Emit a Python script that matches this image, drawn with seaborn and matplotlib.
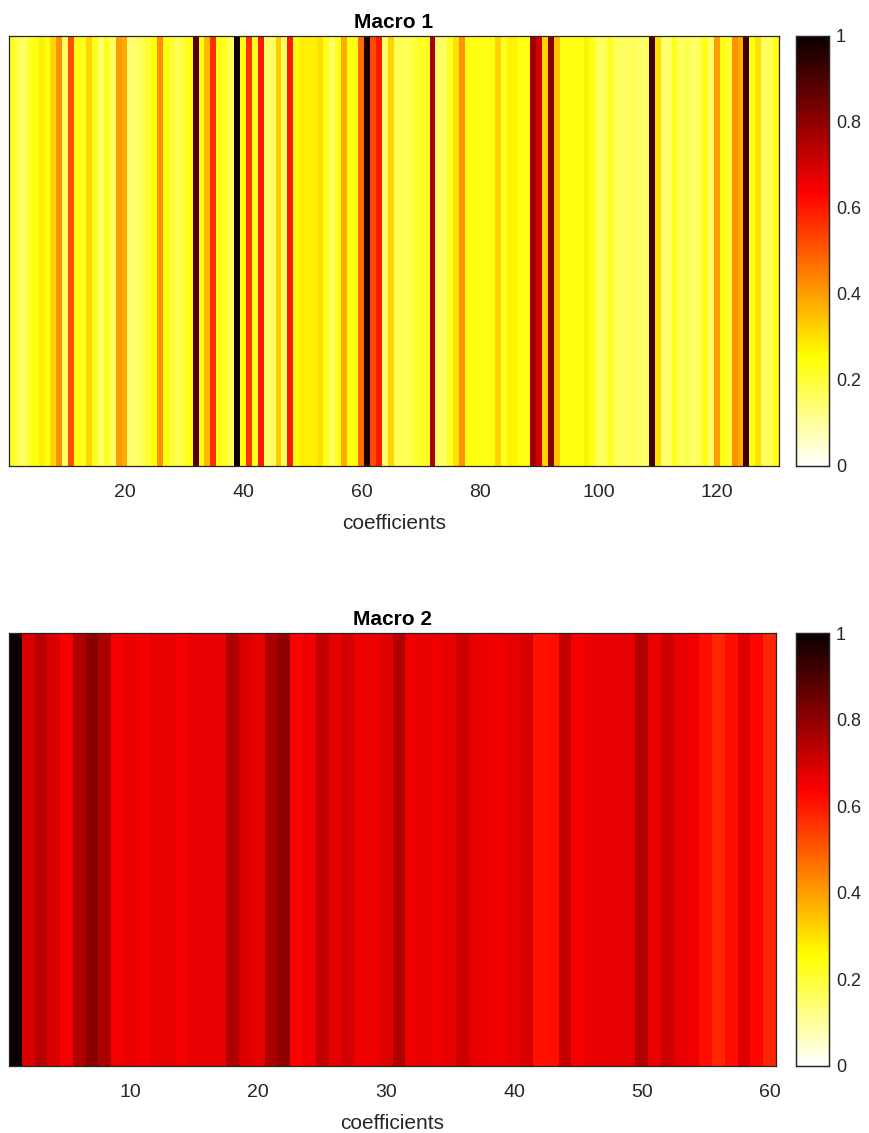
import numpy as np
import pandas as pd
import matplotlib
matplotlib.use("Agg")
import matplotlib.pyplot as plt
import seaborn as sns

# ---------------- data ----------------
macro1_values = [
    0.22, 0.18, 0.15, 0.22, 0.24, 0.28, 0.24, 0.32, 0.42, 0.15,
    0.52, 0.24, 0.23, 0.32, 0.23, 0.15, 0.22, 0.16, 0.40, 0.38,
    0.14, 0.15, 0.17, 0.20, 0.25, 0.42, 0.24, 0.20, 0.17, 0.20,
    0.24, 0.88, 0.24, 0.36, 0.57, 0.24, 0.22, 0.17, 0.99, 0.24,
    0.56, 0.23, 0.60, 0.15, 0.16, 0.33, 0.16, 0.60, 0.24, 0.28,
    0.28, 0.28, 0.30, 0.23, 0.16, 0.23, 0.38, 0.24, 0.24, 0.47,
    0.97, 0.52, 0.60, 0.15, 0.32, 0.17, 0.17, 0.17, 0.20, 0.22,
    0.22, 0.76, 0.15, 0.16, 0.22, 0.30, 0.42, 0.24, 0.24, 0.24,
    0.24, 0.24, 0.32, 0.22, 0.27, 0.27, 0.24, 0.24, 0.78, 0.70,
    0.32, 0.81, 0.34, 0.24, 0.24, 0.24, 0.24, 0.27, 0.24, 0.17,
    0.16, 0.22, 0.17, 0.16, 0.16, 0.17, 0.15, 0.16, 0.91, 0.30,
    0.14, 0.16, 0.22, 0.16, 0.18, 0.15, 0.17, 0.24, 0.15, 0.40,
    0.24, 0.20, 0.42, 0.38, 0.92, 0.24, 0.30, 0.16, 0.17, 0.24,
]
macro2_values = [
    1.00, 0.69, 0.74, 0.69, 0.65, 0.75, 0.81, 0.76, 0.65, 0.665,
    0.65, 0.67, 0.67, 0.65, 0.67, 0.665, 0.665, 0.75, 0.69, 0.67,
    0.76, 0.80, 0.635, 0.66, 0.72, 0.67, 0.70, 0.66, 0.66, 0.68,
    0.75, 0.66, 0.67, 0.66, 0.67, 0.71, 0.67, 0.66, 0.66, 0.67,
    0.69, 0.61, 0.615, 0.72, 0.645, 0.665, 0.665, 0.67, 0.67, 0.75,
    0.665, 0.71, 0.67, 0.66, 0.615, 0.58, 0.615, 0.68, 0.625, 0.58,
]
titles = ["Macro 1", "Macro 2"]
xlabel_text = "coefficients"
macro1_ticks = [20, 40, 60, 80, 100, 120]
macro2_ticks = [10, 20, 30, 40, 50, 60]
cbar_ticks = [0, 0.2, 0.4, 0.6, 0.8, 1]
cbar_ticklabels = ["0", "0.2", "0.4", "0.6", "0.8", "1"]

# ---------------- style ----------------
sns.set_style("white")
plt.rcParams["font.family"] = ["Liberation Sans", "DejaVu Sans"]
TXT = "#262626"

W, H = 869, 1133
fig = plt.figure(figsize=(W / 100, H / 100), dpi=100)

def frac(l, t, r, b):
    return [l / W, 1 - b / H, (r - l) / W, (b - t) / H]

panels = [
    (macro1_values, macro1_ticks, titles[0], frac(9, 36, 779, 466), frac(796, 36, 829, 466)),
    (macro2_values, macro2_ticks, titles[1], frac(9, 633, 776, 1066), frac(796, 633, 829, 1066)),
]

for vals, ticks, title, axpos, cpos in panels:
    ax = fig.add_axes(axpos)
    cax = fig.add_axes(cpos)
    df = pd.DataFrame([vals], columns=np.arange(1, len(vals) + 1))
    sns.heatmap(df, ax=ax, cmap="hot_r", vmin=0, vmax=1, cbar_ax=cax,
                xticklabels=False, yticklabels=False)
    ax.set_xticks([t - 0.5 for t in ticks])
    ax.set_xticklabels([str(t) for t in ticks], fontsize=14, color=TXT)
    ax.set_yticks([])
    ax.set_ylabel("")
    ax.tick_params(axis="x", direction="in", length=5, width=0.8, color=TXT,
                   top=True, bottom=True, pad=13)
    for s in ax.spines.values():
        s.set_visible(True)
        s.set_color(TXT)
        s.set_linewidth(0.9)
    ax.set_xlabel(xlabel_text, fontsize=15, color=TXT, labelpad=9.5)
    ax.set_title(title, fontsize=15, fontweight="bold", color="black", pad=6)

    cax.set_yticks(cbar_ticks)
    cax.set_yticklabels(cbar_ticklabels, fontsize=13, color=TXT)
    cax.tick_params(axis="y", direction="in", length=4, width=0.8, color=TXT,
                    right=True, left=False, pad=5)
    for s in cax.spines.values():
        s.set_visible(True)
        s.set_color(TXT)
        s.set_linewidth(0.9)
    try:
        cax.collections[0].colorbar.outline.set_edgecolor(TXT)
        cax.collections[0].colorbar.outline.set_linewidth(0.9)
    except Exception:
        pass

fig.savefig("out.png", dpi=100)
